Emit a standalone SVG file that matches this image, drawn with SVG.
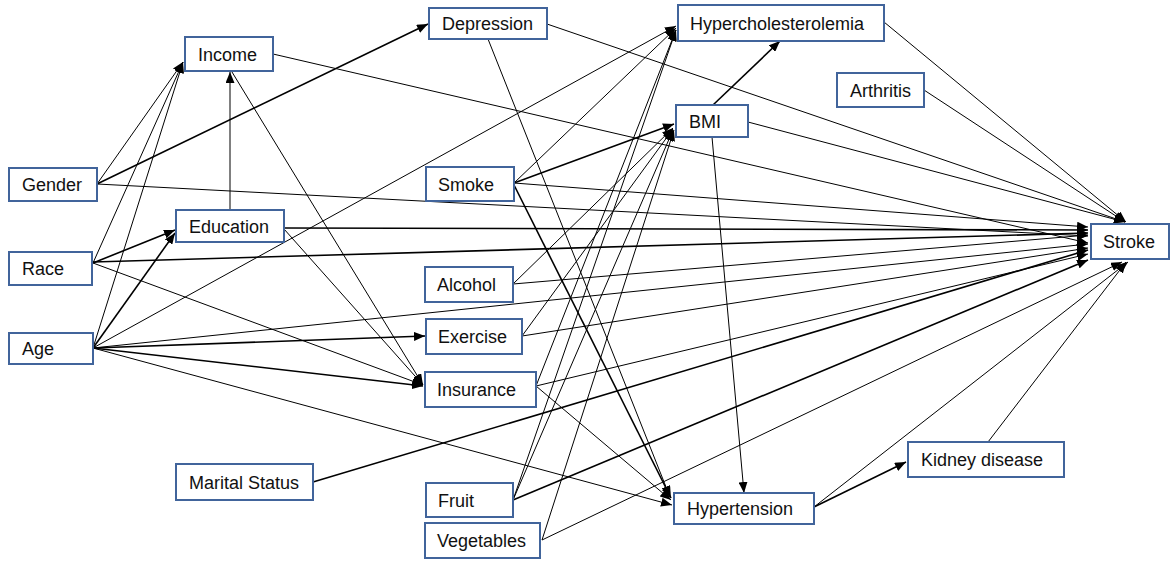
<svg xmlns="http://www.w3.org/2000/svg" width="1170" height="561" viewBox="0 0 1170 561">
<defs>
<style>
.n rect{fill:#fff;stroke:#41649B;stroke-width:2}
.n text{font-family:"Liberation Sans",Arial,sans-serif;font-size:18px;fill:#111}
#edges line{stroke:#000;stroke-width:1;marker-end:url(#ah)}
#edges line.t{stroke-width:1.6}
</style>
<marker id="ah" markerUnits="userSpaceOnUse" markerWidth="11" markerHeight="9" refX="11" refY="4.5" orient="auto">
<path d="M0,0 L11,4.5 L0,9 z" fill="#000"/>
</marker>
</defs>
<rect width="1170" height="561" fill="#fff"/>
<g id="edges">
<line x1="97" y1="184" x2="183" y2="62"/>
<line x1="93" y1="263" x2="183" y2="62"/>
<line x1="93" y1="348" x2="183" y2="62"/>
<line class="t" x1="97" y1="184" x2="428" y2="24"/>
<line class="t" x1="93" y1="263" x2="175" y2="230"/>
<line class="t" x1="93" y1="348" x2="175" y2="233"/>
<line x1="230" y1="210" x2="230" y2="72"/>
<line x1="232" y1="72" x2="423" y2="385"/>
<line x1="284" y1="229" x2="423" y2="385"/>
<line x1="93" y1="263" x2="423" y2="385"/>
<line class="t" x1="93" y1="348" x2="423" y2="386"/>
<line class="t" x1="93" y1="348" x2="425" y2="336"/>
<line x1="93" y1="348" x2="676" y2="26"/>
<line x1="93" y1="348" x2="1088" y2="244"/>
<line x1="93" y1="348" x2="672" y2="505"/>
<line class="t" x1="93" y1="262" x2="1088" y2="233"/>
<line x1="97" y1="184" x2="1088" y2="236"/>
<line class="t" x1="284" y1="228" x2="1088" y2="230"/>
<line x1="273" y1="54" x2="1088" y2="243"/>
<line x1="547" y1="24" x2="1125" y2="222"/>
<line x1="488" y1="39" x2="670" y2="497"/>
<line x1="884" y1="22" x2="1126" y2="222"/>
<line x1="924" y1="90" x2="1125" y2="222"/>
<line x1="748" y1="122" x2="1125" y2="222"/>
<line class="t" x1="713" y1="105" x2="780" y2="41"/>
<line x1="712" y1="137" x2="744" y2="493"/>
<line x1="514" y1="183" x2="676" y2="28"/>
<line class="t" x1="514" y1="183" x2="674" y2="124"/>
<line x1="514" y1="183" x2="1088" y2="227"/>
<line class="t" x1="514" y1="185" x2="671" y2="498"/>
<line x1="513" y1="284" x2="673" y2="128"/>
<line x1="513" y1="284" x2="1088" y2="235"/>
<line x1="522" y1="336" x2="673" y2="129"/>
<line x1="522" y1="336" x2="1088" y2="248"/>
<line x1="536" y1="386" x2="676" y2="30"/>
<line x1="536" y1="386" x2="1088" y2="254"/>
<line x1="536" y1="386" x2="671" y2="500"/>
<line class="t" x1="313" y1="482" x2="1088" y2="250"/>
<line x1="513" y1="500" x2="673" y2="130"/>
<line x1="513" y1="500" x2="676" y2="30"/>
<line class="t" x1="513" y1="500" x2="1088" y2="260"/>
<line x1="542" y1="540" x2="674" y2="130"/>
<line x1="542" y1="540" x2="1122" y2="262"/>
<line x1="814" y1="507" x2="1128" y2="262"/>
<line class="t" x1="814" y1="507" x2="906" y2="462"/>
<line x1="988" y1="442" x2="1126" y2="262"/>
</g>
<g id="income" class="n"><rect x="185" y="37" width="88" height="34"/><text x="198" y="60.5">Income</text></g>
<g id="gender" class="n"><rect x="9" y="168" width="88" height="33"/><text x="22" y="191">Gender</text></g>
<g id="education" class="n"><rect x="176" y="210" width="108" height="32"/><text x="189" y="232.5">Education</text></g>
<g id="race" class="n"><rect x="9" y="252" width="83" height="33"/><text x="22" y="275">Race</text></g>
<g id="age" class="n"><rect x="9" y="333" width="84" height="31"/><text x="22" y="355">Age</text></g>
<g id="marital" class="n"><rect x="176" y="464" width="137" height="36"/><text x="189" y="488.5">Marital Status</text></g>
<g id="depression" class="n"><rect x="429" y="8" width="118" height="31"/><text x="442" y="30">Depression</text></g>
<g id="hyperchol" class="n"><rect x="678" y="5" width="206" height="36"/><text x="690" y="29.5">Hypercholesterolemia</text></g>
<g id="bmi" class="n"><rect x="676" y="105" width="72" height="32"/><text x="689" y="127.5">BMI</text></g>
<g id="arthritis" class="n"><rect x="837" y="73" width="87" height="34"/><text x="850" y="96.5">Arthritis</text></g>
<g id="smoke" class="n"><rect x="426" y="167" width="88" height="34"/><text x="438" y="190.5">Smoke</text></g>
<g id="alcohol" class="n"><rect x="425" y="267" width="88" height="35"/><text x="437" y="291">Alcohol</text></g>
<g id="exercise" class="n"><rect x="426" y="319" width="96" height="35"/><text x="438" y="343">Exercise</text></g>
<g id="insurance" class="n"><rect x="425" y="372" width="111" height="35"/><text x="437" y="396">Insurance</text></g>
<g id="fruit" class="n"><rect x="426" y="483" width="87" height="34"/><text x="438" y="506.5">Fruit</text></g>
<g id="vegetables" class="n"><rect x="425" y="523" width="115" height="35"/><text x="437" y="547">Vegetables</text></g>
<g id="hypertension" class="n"><rect x="674" y="493" width="140" height="31"/><text x="687" y="515">Hypertension</text></g>
<g id="kidney" class="n"><rect x="908" y="442" width="156" height="35"/><text x="921" y="466">Kidney disease</text></g>
<g id="stroke" class="n"><rect x="1091" y="224" width="78" height="35"/><text x="1103" y="248">Stroke</text></g>
</svg>
